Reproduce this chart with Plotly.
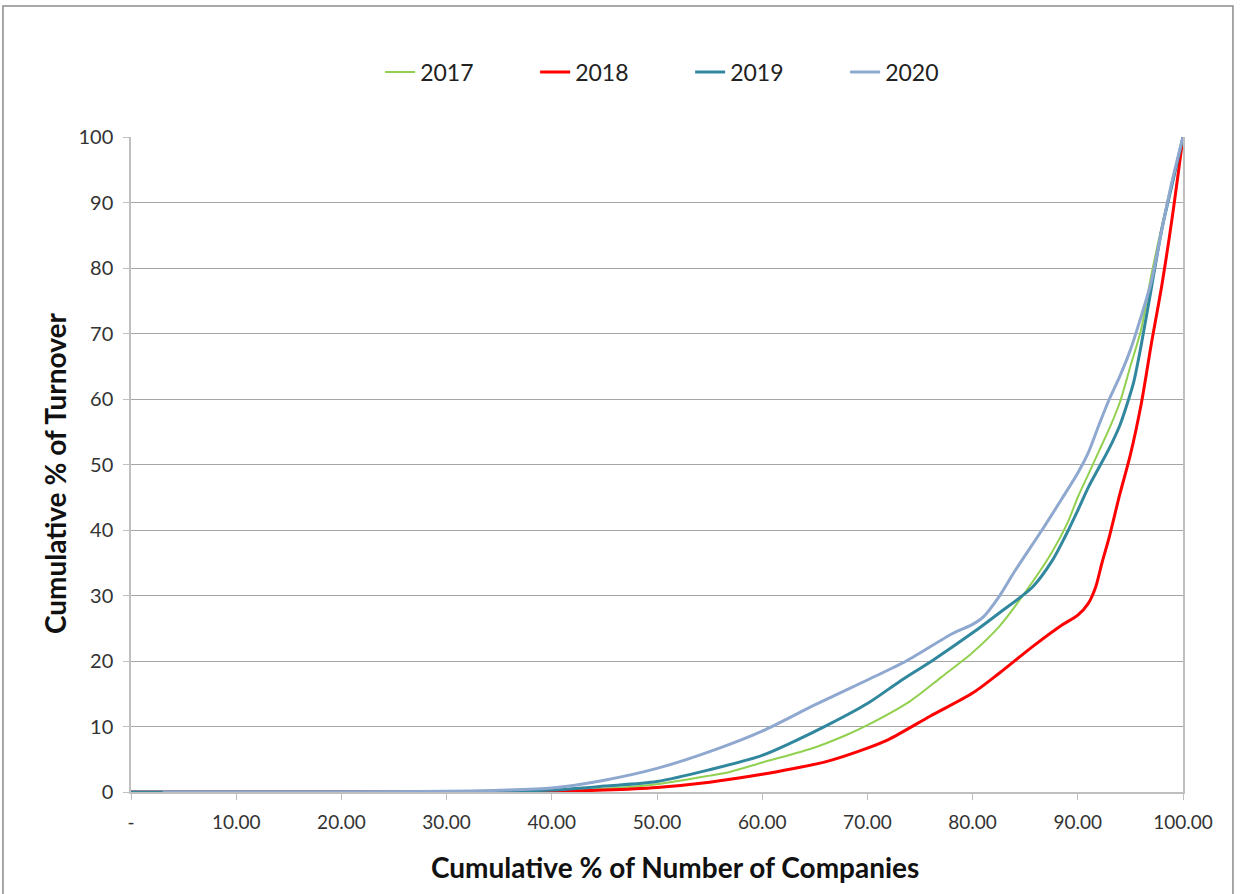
import plotly.graph_objects as go

# Lorenz-style curves: cumulative % of companies vs cumulative % of turnover
x_2017 = [0, 10, 20, 30, 35, 40, 45, 50, 55, 57, 60, 65, 68, 70, 74, 77, 80, 82.5, 85, 87.5, 89, 90, 91, 92, 93, 94, 95, 96, 97, 98, 99, 100]
y_2017 = [0, 0, 0, 0.05, 0.1, 0.2, 0.5, 1.2, 2.5, 3.1, 4.5, 6.8, 8.7, 10.2, 13.8, 17.5, 21.3, 25.2, 30.5, 36.5, 41, 45, 48.5, 52, 55.5, 59.5, 65, 70.5, 79, 86.5, 93.5, 100]

x_2018 = [0, 10, 20, 30, 40, 45, 50, 55, 60, 63, 66, 70, 72, 76, 80, 82.5, 85.7, 88.5, 90, 91, 91.7, 92.3, 93, 94, 95, 96, 97, 98, 99, 100]
y_2018 = [0, 0, 0, 0, 0.1, 0.3, 0.7, 1.5, 2.7, 3.6, 4.6, 6.7, 8, 11.6, 15.1, 18.1, 22.2, 25.5, 27, 28.8, 31.3, 35, 39, 45.5, 51.5, 59, 68.5, 77.5, 88, 100]

x_2019 = [0, 10, 20, 30, 35, 40, 45, 50, 55, 60, 63, 66.2, 70, 73, 76.3, 80, 82.5, 85.7, 87.6, 88.8, 90, 91, 92, 93, 94, 94.6, 95.3, 96, 97, 98, 99, 100]
y_2019 = [0, 0, 0, 0.05, 0.1, 0.3, 0.9, 1.6, 3.4, 5.6, 7.7, 10.2, 13.5, 16.8, 20.2, 24.3, 27.3, 31.3, 35.4, 39, 43, 46.5, 49.5, 52.5, 56, 58.8, 62.5, 68, 77, 86, 93, 100]

x_2020 = [3, 10, 20, 30, 35, 40, 45, 50, 55.4, 60, 65, 70, 73.7, 78.1, 80, 81, 82.5, 84, 86.6, 88.5, 90, 91, 92, 93, 94, 95, 96, 97, 98, 99, 100]
y_2020 = [0, 0, 0, 0.1, 0.25, 0.6, 1.8, 3.6, 6.4, 9.3, 13.3, 17.1, 20, 24.2, 25.6, 26.7, 29.8, 33.7, 40, 44.8, 48.7, 51.8, 56, 60, 63.5, 67.5, 72.5, 78, 86, 93.5, 100]

x_ticks = [0, 10, 20, 30, 40, 50, 60, 70, 80, 90, 100]
x_tick_labels = ["-", "10.00", "20.00", "30.00", "40.00", "50.00", "60.00", "70.00", "80.00", "90.00", "100.00"]
y_ticks = [0, 10, 20, 30, 40, 50, 60, 70, 80, 90, 100]

series = [
    ("2017", x_2017, y_2017, "#92D050", 2),
    ("2018", x_2018, y_2018, "#FF0000", 3),
    ("2019", x_2019, y_2019, "#31879E", 3),
    ("2020", x_2020, y_2020, "#8FA8CF", 3),
]

fig = go.Figure()
for name, xs, ys, color, width in series:
    fig.add_trace(go.Scatter(
        x=xs, y=ys, name=name, mode="lines",
        line=dict(color=color, width=width, shape="spline", smoothing=0.8),
    ))

font_family = "Lato, 'DejaVu Sans', sans-serif"
title_font = dict(family=font_family, size=28, color="#111111")

fig.update_layout(
    width=1241, height=894,
    margin=dict(l=131, r=58, t=137, b=102),
    paper_bgcolor="white", plot_bgcolor="white",
    font=dict(family=font_family, color="#333333"),
    showlegend=True,
    legend=dict(
        orientation="h", x=0.5315, xanchor="center", y=1.099, yanchor="middle",
        font=dict(size=23, color="#222222"),
        entrywidth=110, entrywidthmode="pixels",
        itemwidth=30,
    ),
    xaxis=dict(
        range=[0, 100], tickvals=x_ticks, ticktext=x_tick_labels,
        showgrid=False, zeroline=False,
        showline=True, linecolor="#BFBFBF", linewidth=1.5,
        ticks="outside", ticklen=6, tickcolor="#BFBFBF",
        ticklabelstandoff=6,
        tickfont=dict(size=19, color="#333333"),
    ),
    yaxis=dict(
        range=[0, 100], tickvals=y_ticks,
        showgrid=True, gridcolor="#A6A6A6", gridwidth=1,
        zeroline=False,
        showline=True, linecolor="#BFBFBF", linewidth=1.5, mirror=True,
        ticks="outside", ticklen=6, tickcolor="#BFBFBF",
        ticklabelstandoff=6,
        tickfont=dict(size=20, color="#333333"),
    ),
)

# axis titles
fig.add_annotation(
    text="<b>Cumulative % of Number of Companies</b>", font=title_font,
    xref="paper", yref="paper", x=0.5171, y=-0.1145,
    xanchor="center", yanchor="middle", showarrow=False,
)
fig.add_annotation(
    text="<b>Cumulative % of Turnover</b>", font=title_font, textangle=-90,
    xref="paper", yref="paper", x=-0.0722, y=0.487,
    xanchor="center", yanchor="middle", showarrow=False,
)

# outer chart frame
fig.add_shape(
    type="rect", xref="paper", yref="paper",
    x0=-0.1217, x1=1.0475, y0=-0.17, y1=1.2,
    line=dict(color="#8C8C8C", width=1.5), fillcolor="rgba(0,0,0,0)",
    layer="below",
)

fig.write_html("out.html")
